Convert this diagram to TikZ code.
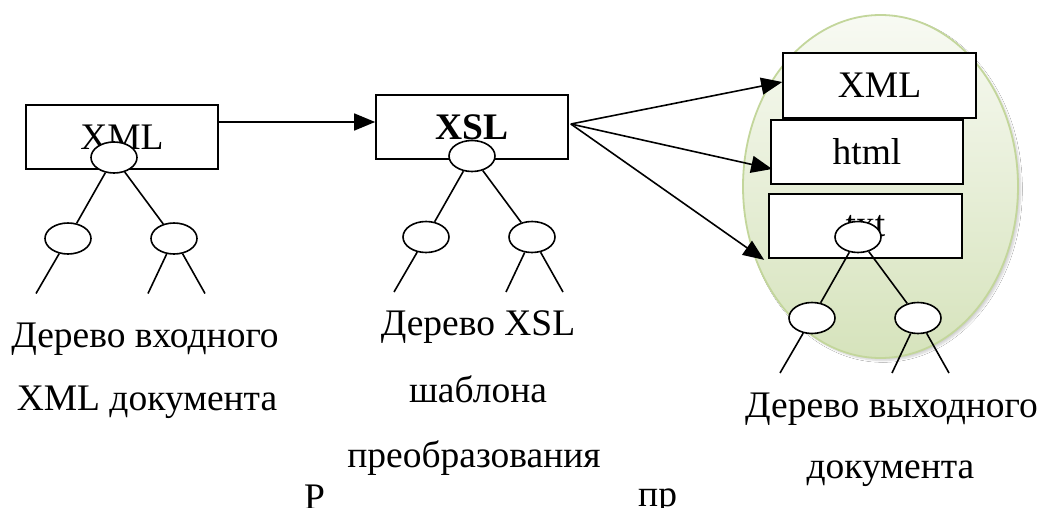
\documentclass[tikz,border=0pt]{standalone}
\usepackage{fontspec}
\setmainfont{Liberation Serif}
\usetikzlibrary{shapes.geometric,arrows.meta,shadows.blur}

\definecolor{ovalline}{HTML}{C3D69B}
\definecolor{ovaltop}{HTML}{F8FAF3}
\definecolor{ovalbottom}{HTML}{D6E3BC}

\tikzset{
  docbox/.style={draw, line width=1.7pt, fill=white, minimum width=192pt,
    minimum height=64pt, inner sep=0pt},
  knot/.style={ellipse, draw, line width=1.6pt, fill=white, minimum width=46pt,
    minimum height=31pt, inner sep=0pt},
  edge/.style={line width=1.6pt},
  arr/.style={line width=1.6pt, -{Triangle[length=21pt,width=17pt]}},
  caption/.style={anchor=base, inner sep=0pt},
  % a small binary tree: root, two children and three dangling branches
  xtree/.pic={
    \node[knot] (-root)  at (0,0)   {};
    \node[knot] (-left)  at (-46,81) {};
    \node[knot] (-right) at (60,81)  {};
    \coordinate (-e1) at (-78,136);
    \coordinate (-e2) at (34,136);
    \coordinate (-e3) at (91,136);
    \draw[edge] (-root) -- (-left);
    \draw[edge] (-root) -- (-right);
    \draw[edge] (-left) -- (-e1);
    \draw[edge] (-right) -- (-e2);
    \draw[edge] (-right) -- (-e3);
  }
}

\begin{document}
\begin{tikzpicture}[x=1pt, y=-1pt, font=\fontsize{37.5pt}{44pt}\selectfont]
\useasboundingbox (0,0) rectangle (1046,508);
\fill[white] (0,0) rectangle (1046,508);

% output document oval
\node[ellipse, draw=ovalline, line width=1.8pt, top color=ovaltop,
  bottom color=ovalbottom, minimum width=275pt, minimum height=343pt,
  blur shadow={shadow xshift=2.5pt, shadow yshift=-2.5pt, shadow blur steps=6,
  shadow opacity=18}] (outoval) at (880.5,186.5) {};

% boxes
\node[docbox] (inxml) at (122,137) {XML};
\node[docbox] (xsl) at (472,127) {\bfseries XSL};
\node[docbox, minimum width=193pt, minimum height=65pt] (outxml) at (879.5,85.5) {XML};
\node[docbox] (outhtml) at (867,152) {html};
\node[docbox, minimum width=193pt] (outtxt) at (865.5,226) {txt};

% transformation arrows
\draw[arr] ([yshift=15pt]inxml.east) coordinate (src) -- (src -| xsl.west);
\coordinate (fan) at ([xshift=2pt,yshift=3pt]xsl.east);
\draw[arr] (fan) -- ([yshift=3.5pt]outxml.west);
\draw[arr] (fan) -- ([xshift=2pt,yshift=-17pt]outhtml.west);
\draw[arr] (fan) -- ([xshift=-4pt,yshift=-1pt]outtxt.south west);

% trees
\pic (tin)  at (114,157.5) {xtree};
\pic (txsl) at (472,156)   {xtree};
\pic (tout) at (858,237)   {xtree};

% labels
\node[caption] (lin1) at (145,347) {Дерево входного};
\node[caption] (lin2) at (147,410) {XML документа};
\node[caption] (lx1) at (478,335) {Дерево XSL};
\node[caption] (lx2) at (478,402) {шаблона};
\node[caption] (lx3) at (474,467) {преобразования};
\node[caption] (lo1) at (891.5,417) {Дерево выходного};
\node[caption] (lo2) at (890.5,478) {документа};

% figure caption fragments
\begin{scope}
  \clip (300,470) rectangle (323,508);
  \node[anchor=base west, inner sep=0pt] (capa) at (304,509) {Ри};
\end{scope}
\node[anchor=base west, inner sep=0pt] (capb) at (638,506) {пр};
\end{tikzpicture}
\end{document}
